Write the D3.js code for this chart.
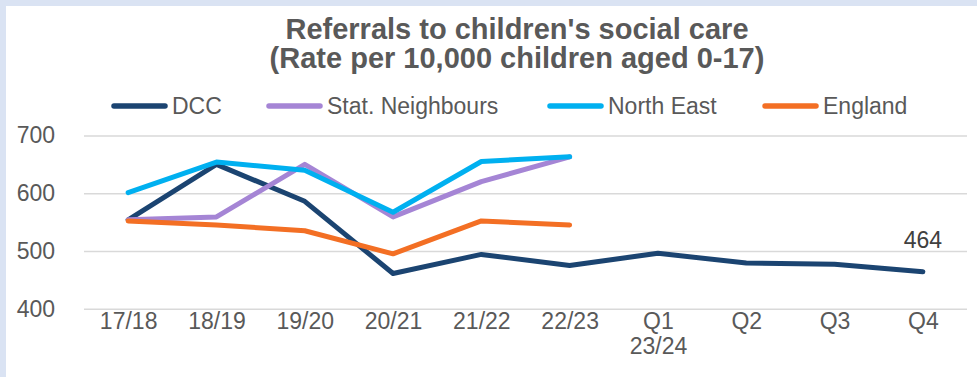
<!DOCTYPE html>
<html>
<head>
<meta charset="utf-8">
<script src="https://cdn.jsdelivr.net/npm/d3@7"></script>
<style>
  html, body { margin: 0; padding: 0; background: #dae3f3; }
  svg { display: block; }
  text { font-family: "Liberation Sans", Arial, sans-serif; }
</style>
</head>
<body>
<svg id="chart" width="977" height="377"></svg>
<script>
// Periods on the x axis (the quarterly points belong to 2023/24)
const categories = ["17/18", "18/19", "19/20", "20/21", "21/22", "22/23", "Q1\n23/24", "Q2", "Q3", "Q4"];

// Referral rates per 10,000 children aged 0-17
const dcc            = [554, 650, 586, 461, 494, 475, 496, 479, 477, 464];
const statNeighbours = [554, 559, 650, 559, 620, 663, null, null, null, null];
const northEast      = [601, 654, 640, 567, 655, 663, null, null, null, null];
const england        = [552, 545, 535, 495, 552, 545, null, null, null, null];

const yTicks = [400, 500, 600, 700];

const seriesNames  = ["DCC", "Stat. Neighbours", "North East", "England"];
const seriesValues = [dcc, statNeighbours, northEast, england];
const seriesColors = ["#1b4471", "#a585d5", "#00b0f0", "#f36f24"];

const svg = d3.select("#chart");

// White chart panel inside the pale blue frame
svg.append("rect")
  .attr("x", 6).attr("y", 6)
  .attr("width", 971).attr("height", 371)
  .attr("fill", "#ffffff");

// Title
const title = svg.append("text")
  .attr("text-anchor", "middle")
  .attr("fill", "#595959")
  .attr("font-weight", "bold")
  .attr("font-size", 29);
title.append("tspan").attr("x", 517).attr("y", 39).text("Referrals to children's social care");
title.append("tspan").attr("x", 517).attr("y", 68).text("(Rate per 10,000 children aged 0-17)");

// Scales
const x = d3.scalePoint().domain(categories).range([84, 967]).padding(0.5);
const y = d3.scaleLinear().domain([400, 700]).range([308.7, 135.5]);

// Y axis with horizontal gridlines
const yAxis = svg.append("g")
  .attr("transform", "translate(84,0)")
  .call(d3.axisLeft(y).tickValues(yTicks).tickSize(-883).tickPadding(29));
yAxis.select(".domain").remove();
yAxis.selectAll(".tick line").attr("stroke", "#d9d9d9").attr("stroke-width", 1.6);
yAxis.selectAll(".tick text")
  .attr("fill", "#595959")
  .attr("font-size", 23)
  .attr("font-family", "Liberation Sans, Arial, sans-serif");

// X axis (labels only); multi-line labels are split into tspans
const xAxis = svg.append("g")
  .attr("transform", "translate(0,308.7)")
  .call(d3.axisBottom(x).tickSize(0).tickPadding(20).tickFormat(""));
xAxis.select(".domain").remove();
xAxis.selectAll(".tick text").each(function (d) {
  const t = d3.select(this)
    .attr("fill", "#595959")
    .attr("font-size", 23)
    .attr("font-family", "Liberation Sans, Arial, sans-serif");
  d.split("\n").forEach((line, i) => {
    t.append("tspan")
      .attr("x", 0)
      .attr("dy", i === 0 ? "0" : "1.1em")
      .text(line);
  });
});

// Series lines
const line = d3.line()
  .defined(d => d.v !== null)
  .x(d => x(d.c))
  .y(d => y(d.v));

seriesValues.forEach((vals, i) => {
  const pts = categories.map((c, j) => ({ c, v: vals[j] }));
  svg.append("path")
    .datum(pts)
    .attr("fill", "none")
    .attr("stroke", seriesColors[i])
    .attr("stroke-width", 5)
    .attr("stroke-linejoin", "round")
    .attr("stroke-linecap", "round")
    .attr("d", line);
});

// Value label on the latest DCC point
const lastIdx = dcc.length - 1;
svg.append("text")
  .attr("x", x(categories[lastIdx]))
  .attr("y", y(dcc[lastIdx]) - 23.4)
  .attr("text-anchor", "middle")
  .attr("fill", "#404040")
  .attr("font-size", 23)
  .text(dcc[lastIdx]);

// Legend
const legendX = [112, 267, 548, 763];
const legend = svg.append("g");
seriesNames.forEach((name, i) => {
  legend.append("line")
    .attr("x1", legendX[i] + 2).attr("x2", legendX[i] + 53)
    .attr("y1", 106).attr("y2", 106)
    .attr("stroke", seriesColors[i])
    .attr("stroke-width", 5.5)
    .attr("stroke-linecap", "round");
  legend.append("text")
    .attr("x", legendX[i] + 60)
    .attr("y", 114)
    .attr("fill", "#595959")
    .attr("font-size", 23)
    .text(name);
});
</script>
</body>
</html>
